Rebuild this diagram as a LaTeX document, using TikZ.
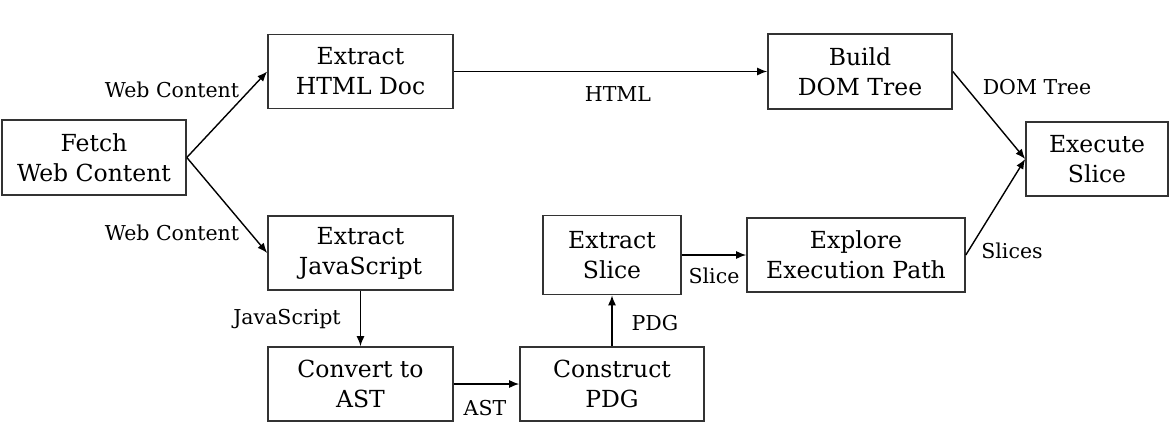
\documentclass[tikz,border=0pt]{standalone}
\usepackage{fontspec}
\setmainfont{DejaVu Serif}
\usetikzlibrary{arrows.meta}
\begin{document}
\begin{tikzpicture}[x=1pt,y=-1pt,
  box/.style={draw=black!80,line width=1.6pt,inner sep=0pt,align=center,
    font=\fontsize{23.5}{30}\selectfont},
  lbl/.style={inner sep=0pt,font=\fontsize{20.5}{24}\selectfont},
  conn/.style={draw=black,line width=1.4pt,-{Latex[length=10pt,width=8pt]}}]
\useasboundingbox (0,0) rectangle (1176,424);
\node[box,minimum width=184pt,minimum height=75pt] (fetch) at (94,157.5) {Fetch\\Web Content};
\node[box,minimum width=185pt,minimum height=74pt] (html) at (360.5,71.5) {Extract\\HTML Doc};
\node[box,minimum width=185pt,minimum height=74pt] (js) at (360.5,253) {Extract\\JavaScript};
\node[box,minimum width=185pt,minimum height=74pt] (conv) at (360.5,384) {Convert to\\AST};
\node[box,minimum width=184pt,minimum height=74pt] (cons) at (612,384) {Construct\\PDG};
\node[box,minimum width=138pt,minimum height=79pt] (slice) at (612,255) {Extract\\Slice};
\node[box,minimum width=218pt,minimum height=74pt] (explore) at (856,255) {Explore\\Execution Path};
\node[box,minimum width=184pt,minimum height=75pt] (build) at (860,71.5) {Build\\DOM Tree};
\node[box,minimum width=142pt,minimum height=74pt] (exec) at (1097,159) {Execute\\Slice};

\draw[conn] (fetch.east) -- (html.west);
\draw[conn] (fetch.east) -- (js.west);
\draw[conn] (html.east) -- (build.west);
\draw[conn] (build.east) -- (exec.west);
\draw[conn] (explore.east) -- (exec.west);
\draw[conn] (slice.east) -- (explore.west);
\draw[conn] (js.south) -- (conv.north);
\draw[conn] (conv.east) -- (cons.west);
\draw[conn] (cons.north) -- (slice.south);

\node[lbl] (l1) at (172,90) {Web Content};
\node[lbl] (l2) at (172,233) {Web Content};
\node[lbl] (l3) at (618,94) {HTML};
\node[lbl] (l4) at (1037,87) {DOM Tree};
\node[lbl] (l5) at (1012,251) {Slices};
\node[lbl] (l6) at (714,276) {Slice};
\node[lbl] (l7) at (287,319) {JavaScript};
\node[lbl] (l8) at (485,408) {AST};
\node[lbl] (l9) at (655,323) {PDG};
\end{tikzpicture}
\end{document}
